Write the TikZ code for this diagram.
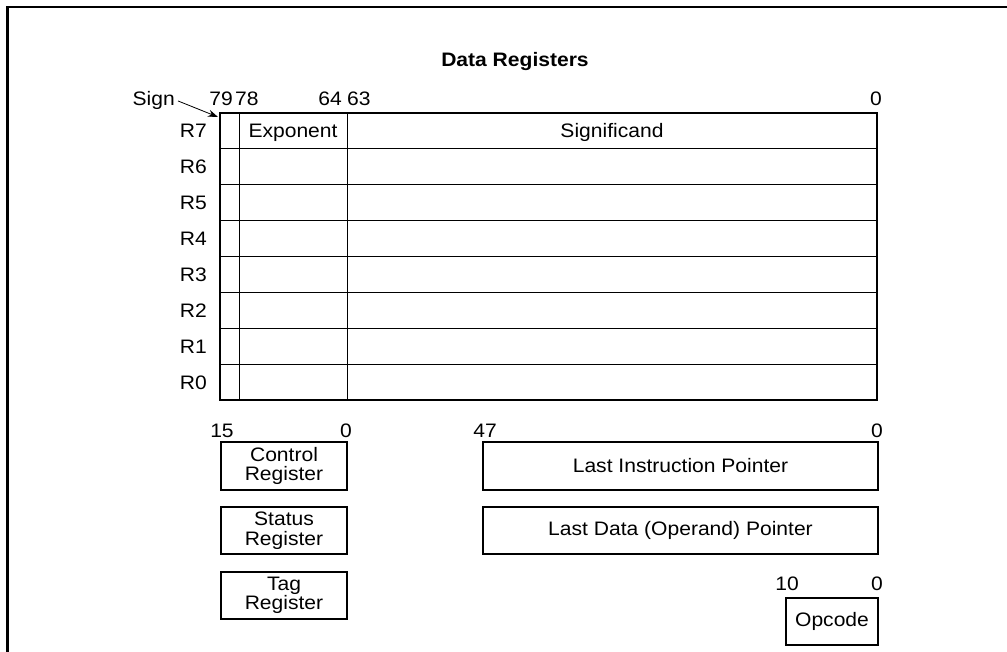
\documentclass[tikz,border=0pt]{standalone}
\usepackage{fontspec}
\setmainfont{Liberation Sans}[FakeStretch=1.08]
\usetikzlibrary{arrows.meta}
\begin{document}
\begin{tikzpicture}[x=1pt,y=-1pt,
  lbl/.style={inner sep=0pt, font=\fontsize{19.5}{19.5}\selectfont},
  regbox/.style={draw, line width=2.2pt, inner sep=0pt, align=center, font=\fontsize{19.5}{19.5}\selectfont},
  gridline/.style={line width=1pt},
  borderline/.style={line width=2.2pt},
  framel/.style={line width=2.6pt}]
\useasboundingbox (0,0) rectangle (1007,652);
% frame
\draw[framel] (7.5,652) -- (7.5,7) -- (1007,7);
% title
\node[lbl, font=\fontsize{19.5}{19.5}\selectfont\bfseries, anchor=base] (title) at (515,67) {Data Registers};
% bit labels
\node[lbl, anchor=base east] (sign) at (175,106) {Sign};
\node[lbl, anchor=base east] (b79) at (233,106) {79};
\node[lbl, anchor=base west] (b78) at (235,106) {78};
\node[lbl, anchor=base east] (b64) at (342,106) {64};
\node[lbl, anchor=base west] (b63) at (347,106) {63};
\node[lbl, anchor=base] (b0) at (876,106) {0};
% register grid
\foreach \i in {1,...,7} {
  \draw[gridline] (220,{113+35.875*\i}) -- (877,{113+35.875*\i});
}
\draw[gridline] (239,113) -- (239,400);
\draw[gridline] (347,113) -- (347,400);
\draw[borderline] (220,113) rectangle (877,400);
\coordinate (signtip) at (218,117);
\draw[line width=0.8pt, -{Stealth[length=10pt,width=7pt]}] ([xshift=3pt]sign.east) -- (signtip);
% row labels
\foreach \r [count=\i from 0] in {7,6,5,4,3,2,1,0} {
  \node[lbl, anchor=base east] (r\r) at (207,{113+35.875*(\i+0.5)+7}) {R\r};
}
\node[lbl, anchor=base] (exp) at (293,138) {Exponent};
\node[lbl, anchor=base] (sig) at (612,138) {Significand};
% lower bit labels
\node[lbl, anchor=base] (c15) at (222,437) {15};
\node[lbl, anchor=base] (c0) at (346,437) {0};
\node[lbl, anchor=base] (p47) at (485,437) {47};
\node[lbl, anchor=base] (p0) at (877,437) {0};
\node[lbl, anchor=base] (o10) at (787,590) {10};
\node[lbl, anchor=base] (o0) at (877,590) {0};
% boxes
\node[regbox, minimum width=126pt, minimum height=48pt] (ctrl) at (284,466) {Control\\Register};
\node[regbox, minimum width=126pt, minimum height=47pt] (stat) at (284,530.5) {Status\\Register};
\node[regbox, minimum width=126pt, minimum height=47pt] (tag) at (284,595.5) {Tag\\Register};
\node[regbox, minimum width=395pt, minimum height=48pt] (lip) at (680.5,466) {Last Instruction Pointer};
\node[regbox, minimum width=395pt, minimum height=47pt] (ldp) at (680.5,530.5) {Last Data (Operand) Pointer};
\node[regbox, minimum width=92pt, minimum height=47pt] (opc) at (832,621.5) {Opcode};
\end{tikzpicture}
\end{document}
